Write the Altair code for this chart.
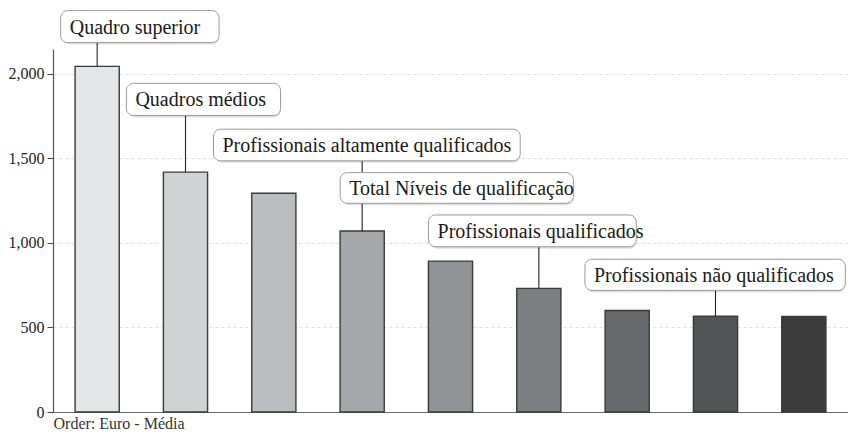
import altair as alt
import pandas as pd

# ---------------- data ----------------
categories = [
    "Quadro superior",
    "Quadros médios",
    "Encarregados, contramestres, mestres e chefes de equipa",
    "Profissionais altamente qualificados",
    "Total Níveis de qualificação",
    "Profissionais qualificados",
    "Profissionais semiqualificados",
    "Profissionais não qualificados",
    "Praticantes e aprendizes",
]
values = [2043, 1418, 1293, 1070, 892, 731, 600, 567, 565]

y_ticks = [0, 500, 1000, 1500, 2000]
footer = "Order: Euro - Média"

# callout labels and the bar (index) they point to
ann_labels = [
    "Quadro superior",
    "Quadros médios",
    "Profissionais altamente qualificados",
    "Total Níveis de qualificação",
    "Profissionais qualificados",
    "Profissionais não qualificados",
]
ann_target = [0, 1, 3, 4, 5, 7]
ann_connector = [1, 1, 1, 0, 1, 1]

# ---------------- layout / style ----------------
bar_colors = ["#e4e5e7", "#d1d2d4", "#bcbdc0", "#a6a7aa", "#929396",
              "#7d7e81", "#68696c", "#535456", "#3c3c3c"]
# callout box placement (x in bar-index units, y in value units)
ann_left = [-0.413, 0.331, 1.317, 2.751, 3.751, 5.522]
ann_right = [1.380, 2.076, 4.789, 5.391, 6.103, 8.47]
ann_bottom = [2184, 1753, 1485, 1234, 977, 719]
ann_top = [2373, 1943, 1672, 1415, 1165, 903]

FONT = "Liberation Serif"

bars = pd.DataFrame({
    "idx": list(range(len(categories))),
    "category": categories,
    "value": values,
})
ann = pd.DataFrame({
    "label": ann_labels,
    "target": ann_target,
    "connector": ann_connector,
    "left": ann_left,
    "right": ann_right,
    "bottom": ann_bottom,
    "top": ann_top,
    "target_value": [values[t] for t in ann_target],
})

xscale = alt.Scale(domain=[-0.5, len(categories) - 0.5], nice=False, zero=False)
yscale = alt.Scale(domain=[0, 2146], nice=False, zero=True)

x_axis = alt.Axis(
    title=footer, labels=False, ticks=False, grid=False,
    domainColor="#6a6a6a", domainWidth=1.2,
    titleAnchor="start", titleAlign="left", titleFont=FONT,
    titleFontSize=16, titleFontWeight="normal", titleColor="#333333",
    titlePadding=3,
)
y_axis = alt.Axis(
    values=y_ticks, format=",.0f", title=None,
    labelFont=FONT, labelFontSize=16, labelColor="#222222", labelPadding=3,
    tickColor="#444444", tickSize=6, domainColor="#555555", domainWidth=1.2,
    grid=True, gridDash=[3, 3], gridColor="#dedede",
)

base_bars = alt.Chart(bars).transform_calculate(
    x0="datum.idx - 0.25", x1="datum.idx + 0.25", base="0"
)

def bar_shadow(dx, dy, op):
    return base_bars.mark_rect(color="#000000", opacity=op, xOffset=dx, yOffset=dy).encode(
        x=alt.X("x0:Q", scale=xscale, axis=x_axis),
        x2="x1:Q",
        y=alt.Y("value:Q", scale=yscale, axis=y_axis),
        y2="base:Q",
    )

main_bars = base_bars.mark_rect(stroke="#3a3a3a", strokeWidth=1.4).encode(
    x=alt.X("x0:Q", scale=xscale, axis=x_axis),
    x2="x1:Q",
    y=alt.Y("value:Q", scale=yscale, axis=y_axis),
    y2="base:Q",
    fill=alt.Fill("category:N", scale=alt.Scale(domain=categories, range=bar_colors), legend=None),
)

base_ann = alt.Chart(ann).transform_calculate(mid="(datum.bottom + datum.top) / 2")

connectors = base_ann.transform_filter("datum.connector == 1").mark_rule(
    color="#222222", strokeWidth=1.1
).encode(
    x=alt.X("target:Q", scale=xscale, axis=x_axis),
    y=alt.Y("bottom:Q", scale=yscale, axis=y_axis),
    y2="target_value:Q",
)

box_shadow = base_ann.mark_rect(cornerRadius=7, color="#000000", opacity=0.13, xOffset=2, yOffset=2).encode(
    x=alt.X("left:Q", scale=xscale, axis=x_axis),
    x2="right:Q",
    y=alt.Y("bottom:Q", scale=yscale, axis=y_axis),
    y2="top:Q",
)

boxes = base_ann.mark_rect(cornerRadius=7, fill="#ffffff", stroke="#9a9a9a", strokeWidth=1).encode(
    x=alt.X("left:Q", scale=xscale, axis=x_axis),
    x2="right:Q",
    y=alt.Y("bottom:Q", scale=yscale, axis=y_axis),
    y2="top:Q",
)

texts = base_ann.mark_text(
    align="left", baseline="middle", dx=9, dy=1, font=FONT, fontSize=20, color="#1a1a1a"
).encode(
    x=alt.X("left:Q", scale=xscale, axis=x_axis),
    y=alt.Y("mid:Q", scale=yscale, axis=y_axis),
    text="label:N",
)

chart = alt.layer(
    bar_shadow(4, 3, 0.07),
    bar_shadow(2, 2, 0.12),
    main_bars,
    connectors,
    box_shadow,
    boxes,
    texts,
).properties(
    width=795,
    height=363,
    padding={"left": 0, "top": 2, "right": 0, "bottom": 0},
    background="#ffffff",
).configure_view(stroke=None)

chart.save("out.html", embed_options={"renderer": "svg", "actions": False})
